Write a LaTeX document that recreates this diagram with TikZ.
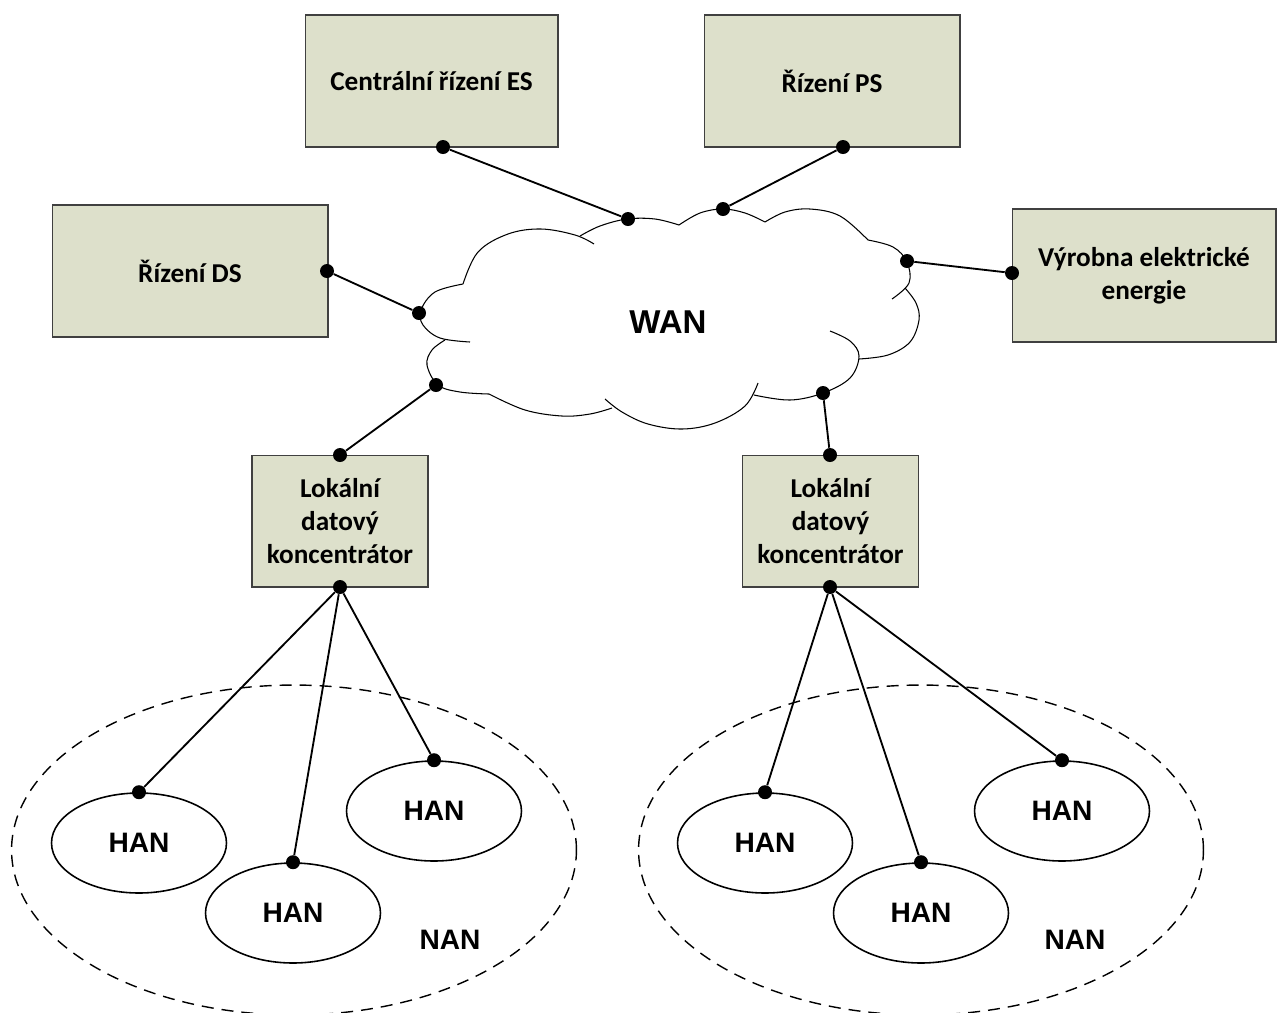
\documentclass[tikz,border=0pt]{standalone}
\usepackage{fontspec}
\setmainfont{Carlito}
\newfontfamily\arialfont{Liberation Sans}
\usetikzlibrary{shapes.geometric}
\definecolor{boxfill}{RGB}{221,224,203}
\definecolor{boxline}{RGB}{64,64,64}
\begin{document}
\begin{tikzpicture}[x=0.02cm,y=-0.02cm,
  box/.style={draw=boxline, line width=0.6pt, fill=boxfill, rectangle, inner sep=0pt, font=\fontsize{15.5}{18.7}\selectfont\bfseries, align=center},
  dot/.style={circle, fill=black, inner sep=0pt, minimum size=0.28cm},
  conn/.style={line width=1.05pt},
  han/.style={ellipse, draw, line width=0.9pt, inner sep=0pt, minimum width=3.5cm, minimum height=2.0cm, font=\arialfont\fontsize{16}{19}\selectfont\bfseries},
  nan/.style={ellipse, draw, dash pattern=on 0.24cm off 0.16cm, line width=0.8pt, inner sep=0pt, minimum width=11.3cm, minimum height=6.6cm},
  cloudline/.style={line width=0.6pt},
  lbl/.style={font=\arialfont\fontsize{16}{19}\selectfont\bfseries},
  wanlbl/.style={font=\arialfont\fontsize{18.8}{22}\selectfont\bfseries}
]
\useasboundingbox (0,0) rectangle (1277,1012);

% boxes
\node[box, minimum width=5.06cm, minimum height=2.64cm] (es) at (431.5,81) {Centrální řízení ES};
\node[box, minimum width=5.12cm, minimum height=2.64cm] (ps) at (832,81) {Řízení PS};
\node[box, minimum width=5.52cm, minimum height=2.64cm] (ds) at (190,271) {Řízení DS};
\node[box, minimum width=5.28cm, minimum height=2.66cm] (vy) at (1144,275.5) {Výrobna elektrické\\energie};
\node[box, minimum width=3.52cm, minimum height=2.64cm] (lokl) at (340,521) {Lokální\\datový\\koncentrátor};
\node[box, minimum width=3.52cm, minimum height=2.64cm] (lokr) at (830.5,521) {Lokální\\datový\\koncentrátor};

% cloud
\begin{scope}[cloudline]
\draw plot[smooth, tension=0.6] coordinates {(463,284) (478,252) (508,234) (541,229) (575,235) (594,244)};
\draw plot[smooth, tension=0.6] coordinates {(580,236) (600,226) (627,219) (655,219) (679,225)};
\draw plot[smooth, tension=0.6] coordinates {(679,225) (700,213) (723,209) (745,213) (765,222)};
\draw plot[smooth, tension=0.6] coordinates {(765,222) (785,212) (810,209) (840,216) (868,240)};
\draw plot[smooth, tension=0.6] coordinates {(868,240) (893,247) (907,262) (909,283) (892,299)};
\draw plot[smooth, tension=0.6] coordinates {(905,288) (916,303) (919,320) (910,342) (888,355) (859,359)};
\draw plot[smooth, tension=0.6] coordinates {(830,331) (850,341) (859,356) (850,378) (823,393) (790,400) (754,395)};
\draw plot[smooth, tension=0.6] coordinates {(758,383) (745,406) (715,423) (682,429) (648,424) (622,412) (605,399)};
\draw plot[smooth, tension=0.6] coordinates {(612,408) (590,414) (562,416) (525,410) (489,394)};
\draw plot[smooth, tension=0.6] coordinates {(489,394) (460,392) (438,385) (427,365) (432,350) (445,340)};
\draw plot[smooth, tension=0.6] coordinates {(470,342) (440,338) (423,325) (421,310) (435,292) (463,284)};
\end{scope}
\node[wanlbl] (wan) at (668,322) {WAN};

% NAN areas
\node[nan] (nanl) at (294,850) {};
\node[nan] (nanr) at (921,850) {};
\node[lbl] (nanlt) at (450,940) {NAN};
\node[lbl] (nanrt) at (1075,940) {NAN};

% HAN
\node[han] (hl1) at (139,843) {HAN};
\node[han] (hl2) at (293,913) {HAN};
\node[han] (hl3) at (434,811) {HAN};
\node[han] (hr1) at (765,843) {HAN};
\node[han] (hr2) at (921,913) {HAN};
\node[han] (hr3) at (1062,811) {HAN};

% dots
\node[dot] (des) at (443,147) {};
\node[dot] (dps) at (843,147) {};
\node[dot] (dds) at (327,271) {};
\node[dot] (dvy) at (1012,273) {};
\node[dot] (dlt) at (340,455) {};
\node[dot] (dlb) at (340,587) {};
\node[dot] (drt) at (830,455) {};
\node[dot] (drb) at (830,587) {};
\node[dot] (dc1) at (628,219) {};
\node[dot] (dc2) at (723,209) {};
\node[dot] (dc3) at (907,261) {};
\node[dot] (dc4) at (419,313) {};
\node[dot] (dc5) at (436,385) {};
\node[dot] (dc6) at (823,393) {};
\node[dot] (dhl1) at (hl1.north) {};
\node[dot] (dhl2) at (hl2.north) {};
\node[dot] (dhl3) at (hl3.north) {};
\node[dot] (dhr1) at (hr1.north) {};
\node[dot] (dhr2) at (hr2.north) {};
\node[dot] (dhr3) at (hr3.north) {};

% connectors
\draw[conn] (des) -- (dc1);
\draw[conn] (dps) -- (dc2);
\draw[conn] (dds) -- (dc4);
\draw[conn] (dc3) -- (dvy);
\draw[conn] (dc5) -- (dlt);
\draw[conn] (dc6) -- (drt);
\draw[conn] (dlb) -- (dhl1);
\draw[conn] (dlb) -- (dhl2);
\draw[conn] (dlb) -- (dhl3);
\draw[conn] (drb) -- (dhr1);
\draw[conn] (drb) -- (dhr2);
\draw[conn] (drb) -- (dhr3);
\end{tikzpicture}
\end{document}
